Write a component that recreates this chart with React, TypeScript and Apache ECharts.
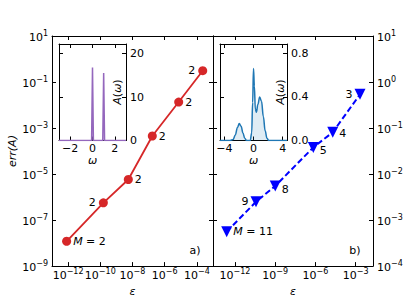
import React, { useEffect, useRef } from 'react';
import * as echarts from 'echarts';

// ---- data ----
// left panel: error vs epsilon, red circles, bond dimension M labels
const leftEps = [8.1e-13, 1.55e-10, 5.5e-9, 1.7e-7, 7.4e-6, 2.3e-4];
const leftErr = [1.2e-8, 5.6e-7, 5.8e-6, 4.5e-4, 1.35e-2, 3.1e-1];
const leftM = [2, 2, 2, 2, 2, 2];

// right panel: error vs epsilon, blue triangles, M labels
const rightEps = [2.4e-13, 3.7e-11, 1.0e-9, 6.9e-7, 1.95e-5, 2.1e-3];
const rightErr = [5.6e-4, 2.5e-3, 5.5e-3, 3.8e-2, 8.1e-2, 5.4e-1];
const rightM = [11, 9, 8, 5, 4, 3];

// tick exponents
const leftXTicks = [-12, -10, -8, -6, -4];
const leftYTicks = [-9, -7, -5, -3, -1, 1];
const rightXTicks = [-12, -9, -6, -3];
const rightYTicks = [-4, -3, -2, -1, 0, 1];

// insets: spectral functions A(omega)
const leftOmega = [-3, -0.08, 0, 0.08, 0.92, 1.0, 1.08, 3];
const leftA = [0, 0, 16.8, 0, 0, 15.5, 0, 0];
const leftInsetXTicks = [-2, 0, 2];
const leftInsetYTicks = [0, 10, 20];

const rightOmega = [-4.6, -3.2, -2.8, -2.5, -2.2, -1.95, -1.7, -1.45, -1.2, -0.95, -0.45, -0.25, -0.12, 0, 0.12, 0.25, 0.4, 0.6, 0.85, 1.1, 1.35, 1.6, 1.85, 2.1, 2.4, 4.6];
const rightA = [0, 0, 0.01, 0.05, 0.12, 0.155, 0.13, 0.07, 0.02, 0, 0, 0.07, 0.35, 0.66, 0.5, 0.29, 0.26, 0.33, 0.4, 0.36, 0.22, 0.09, 0.02, 0, 0, 0];
const rightInsetXTicks = [-4, 0, 4];
const rightInsetYTicks = [0, 0.4, 0.8];

const FONT = 'DejaVu Sans';
const minus = (s: string) => s.replace('-', '\u2212');

const expRich = {
  b: { fontSize: 11, fontFamily: FONT, color: '#000', lineHeight: 14, verticalAlign: 'bottom' },
  s: { fontSize: 8, fontFamily: FONT, color: '#000', lineHeight: 8, verticalAlign: 'top' },
};
const expFmt = (v: number) => `{b|10}{s|${minus(String(Math.round(v)))}}`;

function mkAxis(o: any) {
  return {
    type: 'value',
    gridIndex: o.grid,
    position: o.position,
    min: o.min,
    max: o.max,
    name: o.name,
    nameLocation: 'middle',
    nameGap: o.nameGap,
    nameTextStyle: o.nameTextStyle,
    axisLine: { show: true, onZero: false, lineStyle: { color: '#000', width: 1 } },
    axisTick: { show: true, inside: true, length: 4, customValues: o.ticks, lineStyle: { color: '#000', width: 1 } },
    axisLabel: {
      show: !!o.label,
      customValues: o.ticks,
      formatter: o.formatter,
      margin: o.margin ?? 4,
      color: '#000',
      fontSize: 11,
      fontFamily: FONT,
      rich: o.rich,
    },
    splitLine: { show: false },
  };
}

export default function App() {
  const ref = useRef<HTMLDivElement>(null);
  useEffect(() => {
    if (!ref.current) return;
    const chart = echarts.init(ref.current, undefined, { renderer: 'svg' });

    const lx = [-13, -3];
    const ly = [-9, 1];
    const rx = [-13.64, -1.71];
    const ry = [-4, 1];

    const leftPlace = ['right', 'left', 'right', 'right', 'right', 'left'];
    const rightPlace = ['right', 'left', 'right', 'right', 'right', 'left'];
    const rightOffsetY = [0, 0, 3, 3, 1, 0];

    const leftData = leftEps.map((e, i) => ({
      value: [Math.log10(e), Math.log10(leftErr[i])],
      label: {
        show: true,
        position: leftPlace[i],
        distance: leftPlace[i] === 'left' ? 3 : 2,
        formatter: i === 0 ? `{i|M} = ${leftM[i]}` : String(leftM[i]),
      },
    }));
    const rightData = rightEps.map((e, i) => ({
      value: [Math.log10(e), Math.log10(rightErr[i])],
      label: {
        show: true,
        position: rightPlace[i],
        distance: rightPlace[i] === 'left' ? 2 : 1,
        offset: [0, rightOffsetY[i]],
        formatter: i === 0 ? `{i|M} = ${rightM[i]}` : String(rightM[i]),
      },
    }));

    const italicRich = { i: { fontStyle: 'italic', fontSize: 11, fontFamily: FONT, color: '#000' } };
    const pointLabel = { color: '#000', fontSize: 11, fontFamily: FONT, rich: italicRich };
    const nameStyle = { fontStyle: 'italic', fontSize: 11, fontFamily: FONT, color: '#000' };

    const insetName = (x: number) => ({
      type: 'text', x, y: 92, rotation: Math.PI / 2, z: 100,
      style: {
        text: '{i|A}({i|ω})', fontSize: 11, fontFamily: FONT, fill: '#000',
        align: 'center', verticalAlign: 'middle', rich: italicRich,
      },
    });

    chart.setOption({
      animation: false,
      backgroundColor: '#fff',
      grid: [
        { left: 52, top: 36, width: 161, height: 232 },
        { left: 213, top: 36, width: 160, height: 232 },
        { left: 59, top: 44, width: 67, height: 96.5, show: true, backgroundColor: '#fff', borderWidth: 0 },
        { left: 220, top: 44, width: 67, height: 96.5, show: true, backgroundColor: '#fff', borderWidth: 0 },
      ],
      xAxis: [
        mkAxis({ grid: 0, position: 'bottom', min: lx[0], max: lx[1], ticks: leftXTicks, label: true, formatter: expFmt, rich: expRich, margin: 1,
          name: 'ε', nameGap: 14, nameTextStyle: nameStyle }),
        mkAxis({ grid: 0, position: 'top', min: lx[0], max: lx[1], ticks: leftXTicks }),
        mkAxis({ grid: 1, position: 'bottom', min: rx[0], max: rx[1], ticks: rightXTicks, label: true, formatter: expFmt, rich: expRich, margin: 1,
          name: 'ε', nameGap: 14, nameTextStyle: nameStyle }),
        mkAxis({ grid: 1, position: 'top', min: rx[0], max: rx[1], ticks: rightXTicks }),
        mkAxis({ grid: 2, position: 'bottom', min: -3, max: 3, ticks: leftInsetXTicks, label: true, margin: 2,
          formatter: (v: number) => minus(String(v)), name: 'ω', nameGap: 14, nameTextStyle: nameStyle }),
        mkAxis({ grid: 2, position: 'top', min: -3, max: 3, ticks: leftInsetXTicks }),
        mkAxis({ grid: 3, position: 'bottom', min: -4.6, max: 4.6, ticks: rightInsetXTicks, label: true, margin: 2,
          formatter: (v: number) => minus(String(v)), name: 'ω', nameGap: 14, nameTextStyle: nameStyle }),
        mkAxis({ grid: 3, position: 'top', min: -4.6, max: 4.6, ticks: rightInsetXTicks }),
      ],
      yAxis: [
        mkAxis({ grid: 0, position: 'left', min: ly[0], max: ly[1], ticks: leftYTicks, label: true, formatter: expFmt, rich: expRich, margin: 4,
          name: 'err(A)', nameGap: 28, nameTextStyle: nameStyle }),
        mkAxis({ grid: 0, position: 'right', min: ly[0], max: ly[1], ticks: leftYTicks }),
        mkAxis({ grid: 1, position: 'right', min: ry[0], max: ry[1], ticks: rightYTicks, label: true, formatter: expFmt, rich: expRich, margin: 4 }),
        mkAxis({ grid: 1, position: 'left', min: ry[0], max: ry[1], ticks: rightYTicks }),
        mkAxis({ grid: 2, position: 'right', min: 0, max: 22.2, ticks: leftInsetYTicks, label: true, margin: 4,
          formatter: (v: number) => String(v) }),
        mkAxis({ grid: 2, position: 'left', min: 0, max: 22.2, ticks: leftInsetYTicks }),
        mkAxis({ grid: 3, position: 'right', min: 0, max: 0.886, ticks: rightInsetYTicks, label: true, margin: 4,
          formatter: (v: number) => v.toFixed(1) }),
        mkAxis({ grid: 3, position: 'left', min: 0, max: 0.886, ticks: rightInsetYTicks }),
      ],
      series: [
        {
          type: 'line', xAxisIndex: 0, yAxisIndex: 0, data: leftData,
          symbol: 'circle', symbolSize: 9,
          lineStyle: { color: '#d62728', width: 1.8 },
          itemStyle: { color: '#d62728' },
          label: pointLabel,
        },
        {
          type: 'line', xAxisIndex: 2, yAxisIndex: 2, data: rightData,
          symbol: 'triangle', symbolRotate: 180, symbolSize: 11,
          lineStyle: { color: '#0000ff', width: 2, type: [6, 3] },
          itemStyle: { color: '#0000ff' },
          label: pointLabel,
        },
        {
          type: 'line', xAxisIndex: 4, yAxisIndex: 4,
          data: leftOmega.map((w, i) => [w, leftA[i]]),
          symbol: 'none',
          lineStyle: { color: '#9467bd', width: 1.5 },
          areaStyle: { color: 'rgba(148,103,189,0.3)' },
        },
        {
          type: 'line', xAxisIndex: 6, yAxisIndex: 6,
          data: rightOmega.map((w, i) => [w, rightA[i]]),
          symbol: 'none', smooth: 0.4, smoothMonotone: 'x',
          lineStyle: { color: '#1f77b4', width: 1.5 },
          areaStyle: { color: 'rgba(31,119,180,0.2)' },
        },
      ],
      graphic: [
        { type: 'text', x: 195, y: 250, style: { text: 'a)', fontSize: 11, fontFamily: FONT, fill: '#000', align: 'center', verticalAlign: 'middle' } },
        { type: 'text', x: 355, y: 250, style: { text: 'b)', fontSize: 11, fontFamily: FONT, fill: '#000', align: 'center', verticalAlign: 'middle' } },
        insetName(117),
        insetName(280),
      ],
    });
    return () => chart.dispose();
  }, []);
  return <div ref={ref} style={{ position: 'fixed', left: 0, top: 0, width: 415, height: 302 }} />;
}
